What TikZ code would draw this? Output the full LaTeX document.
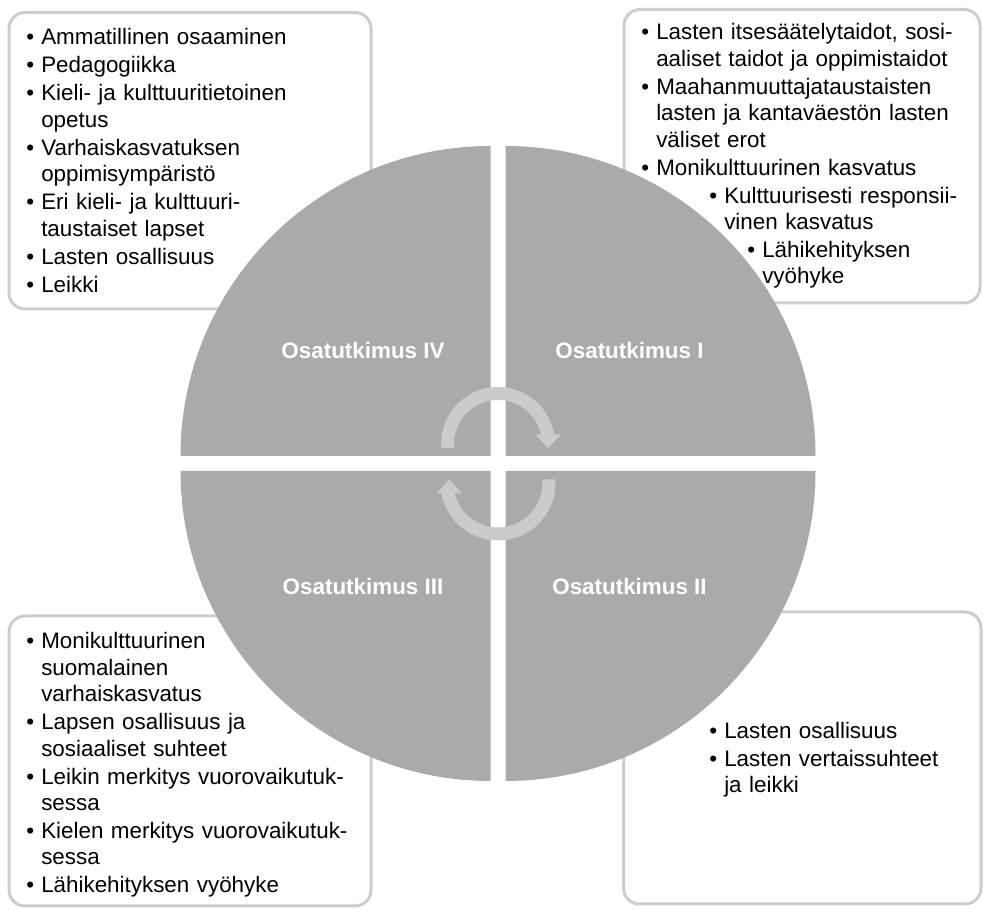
\documentclass[tikz,border=0pt]{standalone}
\usepackage{fontspec}
\setmainfont{Liberation Sans}
\usetikzlibrary{positioning}
\definecolor{quadgray}{RGB}{170,170,170}
\definecolor{framegray}{RGB}{205,205,205}
\definecolor{ringgray}{RGB}{203,203,203}
\newlength{\bulw}\setlength{\bulw}{11.25pt}
\newcommand{\bl}[2][0pt]{\leftskip=#1\relax\hangindent=\bulw\hangafter=1\ifvmode\noindent\fi\parskip=1.2pt\makebox[\bulw][l]{\textbullet}#2\par}

\begin{document}
\begin{tikzpicture}[x=0.75pt,y=0.75pt,
  panel/.style={draw=framegray,line width=2.25pt,fill=white,rounded corners=12pt},
  quad/.style={fill=quadgray},
  lbl/.style={text=white,anchor=base,font=\fontsize{16.8}{20}\selectfont\bfseries},
  items/.style={anchor=base west,inner sep=0pt,text width=300pt,align=left,font=\fontsize{16.8}{19.8}\selectfont},
  ring/.style={draw=ringgray,line width=9.75pt}]
\useasboundingbox (0,0) rectangle (983,910);
\draw[panel] (9,897.5) rectangle (371,601)
             (624,900.5) rectangle (980,607)
             (9,294) rectangle (371,4)
             (623.5,298) rectangle (981,6);
\coordinate (hub) at (498,446.5);
\fill[quad] ([shift={(7.5,7.5)}]hub) -- ++(0:310) arc[start angle=0,end angle=90,radius=310] -- cycle;
\fill[quad] ([shift={(-7.5,7.5)}]hub) -- ++(90:310) arc[start angle=90,end angle=180,radius=310] -- cycle;
\fill[quad] ([shift={(-7.5,-7.5)}]hub) -- ++(180:310) arc[start angle=180,end angle=270,radius=310] -- cycle;
\fill[quad] ([shift={(7.5,-7.5)}]hub) -- ++(270:310) arc[start angle=270,end angle=360,radius=310] -- cycle;
\draw[ring] ([shift={(184.5:50.5)}]498,466) arc[start angle=184.5,end angle=9,radius=50.5];
\fill[ringgray] (535.5,475.5) -- (561,475.5) -- (548,461.7) -- cycle;
\draw[ring] ([shift={(4:51)}]498,427) arc[start angle=4,end angle=-170,radius=51];
\fill[ringgray] (436.7,416.5) -- (462,416.5) -- (449.3,430.7) -- cycle;
\node[lbl] (osaIV) at (363,551) {Osatutkimus IV};
\node[lbl] (osaI) at (629.5,551) {Osatutkimus I};
\node[lbl] (osaIII) at (363,315) {Osatutkimus III};
\node[lbl] (osaII) at (629.5,315) {Osatutkimus II};
\node[items] (listIV) at (26,865) {%
  \bl{Ammatillinen osaaminen}
  \bl{Pedagogiikka}
  \bl{Kieli- ja kulttuuritietoinen\newline opetus}
  \bl{Varhaiskasvatuksen\newline oppimisympäristö}
  \bl{Eri kieli- ja kulttuuri-\newline taustaiset lapset}
  \bl{Lasten osallisuus}
  \bl{Leikki}};
\node[items] (listI) at (641,870) {%
  \bl{Lasten itsesäätelytaidot, sosi-\newline aaliset taidot ja oppimistaidot}
  \bl{Maahanmuuttajataustaisten\newline lasten ja kantaväestön lasten\newline väliset erot}
  \bl{Monikulttuurinen kasvatus}
  \bl[51pt]{Kulttuurisesti responsii-\newline vinen kasvatus}
  \bl[79.5pt]{Lähikehityksen\newline vyöhyke}};
\node[items] (listIII) at (26,261) {%
  \bl{Monikulttuurinen\newline suomalainen\newline varhaiskasvatus}
  \bl{Lapsen osallisuus ja\newline sosiaaliset suhteet}
  \bl{Leikin merkitys vuorovaikutuk-\newline sessa}
  \bl{Kielen merkitys vuorovaikutuk-\newline sessa}
  \bl{Lähikehityksen vyöhyke}};
\node[items] (listII) at (709,171.7) {%
  \bl{Lasten osallisuus}
  \bl{Lasten vertaissuhteet\newline ja leikki}};
\end{tikzpicture}
\end{document}
